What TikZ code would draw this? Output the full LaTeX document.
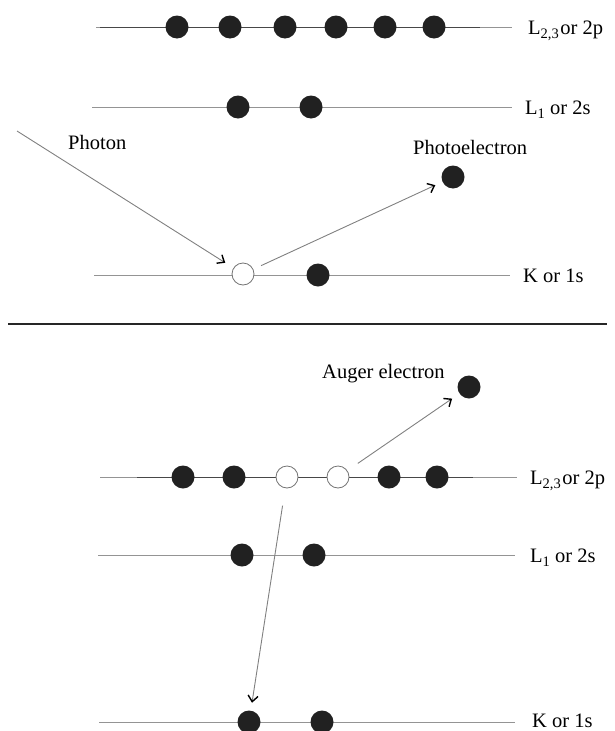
\documentclass[tikz,border=0pt]{standalone}
\usepackage{fontspec}
\setmainfont{Liberation Serif}
\usetikzlibrary{arrows.meta}
\newcommand\lowsub[1]{\raisebox{-0.45ex}{\fontsize{14.5}{15}\selectfont #1}}
\begin{document}
\begin{tikzpicture}[x=1pt,y=-1pt,
  level/.style={draw=black!42, line width=0.9pt},
  darklevel/.style={draw=black!72, line width=0.9pt},
  sep/.style={draw=black!85, line width=1.8pt},
  elec/.style={circle, fill=black!87, inner sep=0pt, minimum size=23pt, outer sep=0pt},
  hole/.style={circle, draw=black!55, fill=white, line width=0.8pt, inner sep=0pt, minimum size=22pt, outer sep=0pt},
  lbl/.style={anchor=base west, inner sep=0pt, font=\fontsize{20.5}{24}\selectfont, text=black},
  trans/.style={draw=black!50, line width=0.9pt, -{Straight Barb[length=6pt,width=10pt,black,line width=1.4pt]}}
]
\useasboundingbox (0,0) rectangle (615,731);

% ---------- upper panel: photoemission ----------
\draw[level] (96,27) -- (512,27);
\draw[darklevel] (100,27) -- (480,27);
\draw[level] (92,107) -- (512,107);
\draw[level] (94,275) -- (510,275);

\node[elec] (a1) at (177,27) {};
\node[elec] (a2) at (230,27) {};
\node[elec] (a3) at (285,27) {};
\node[elec] (a4) at (336,27) {};
\node[elec] (a5) at (385,27) {};
\node[elec] (a6) at (434,27) {};

\node[elec] (b1) at (238,107) {};
\node[elec] (b2) at (311,107) {};

\node[hole] (kh) at (243,274) {};
\node[elec] (k2) at (318,275) {};

\node[elec] (pe) at (453,177) {};

\node[lbl] (la1) at (528,34) {L\lowsub{2,3}\hspace{1.5pt}or 2p};
\node[lbl] (lb1) at (525,114) {L\lowsub{1} or 2s};
\node[lbl] (lk1) at (523,282) {K or 1s};
\node[lbl] (lph) at (68,149) {Photon};
\node[lbl] (lpe) at (413,154) {Photoelectron};

\coordinate (phstart) at (17,131);
\draw[trans, shorten >=10pt] (phstart) -- (kh);
\draw[trans, shorten <=9pt, shorten >=8pt] (kh) -- (pe);

% ---------- separator ----------
\draw[sep] (8,324) -- (607,324);

% ---------- lower panel: Auger process ----------
\draw[level] (100,477) -- (517,477);
\draw[darklevel] (137,477) -- (473,477);
\draw[level] (98,555) -- (515,555);
\draw[level] (99,722) -- (515,722);

\node[elec] (c1) at (183,477) {};
\node[elec] (c2) at (234,477) {};
\node[hole] (ch1) at (287,477) {};
\node[hole] (ch2) at (338,477) {};
\node[elec] (c5) at (389,477) {};
\node[elec] (c6) at (437,477) {};

\node[elec] (d1) at (242,555) {};
\node[elec] (d2) at (314,555) {};

\node[elec] (e1) at (249,722) {};
\node[elec] (e2) at (322,722) {};

\node[elec] (ae) at (469,387) {};

\node[lbl] (lc) at (530,484) {L\lowsub{2,3}\hspace{1.5pt}or 2p};
\node[lbl] (ld) at (530,562) {L\lowsub{1} or 2s};
\node[lbl] (le) at (532,727) {K or 1s};
\node[lbl] (lae) at (322,378) {Auger electron};

\draw[trans, shorten <=13pt, shorten >=9pt] (ch2) -- (ae);
\draw[trans, shorten <=18pt, shorten >=8pt] (ch1) -- (e1);
\end{tikzpicture}
\end{document}
